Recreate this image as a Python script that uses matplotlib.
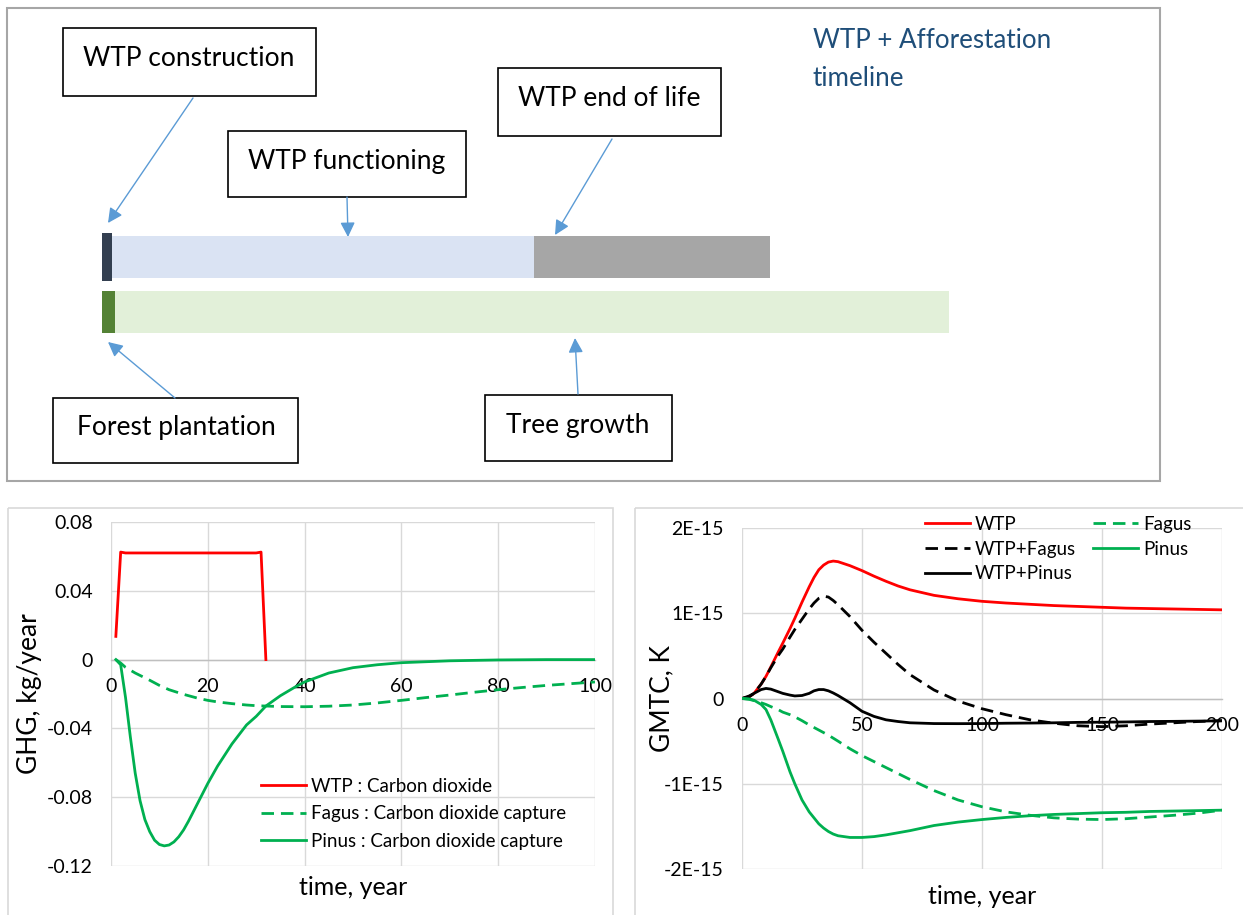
"""WTP + afforestation timeline with GHG flows and GMTC response."""

import numpy as np
import matplotlib
matplotlib.use("Agg")
import matplotlib.pyplot as plt
from matplotlib.patches import Rectangle
from matplotlib.ticker import FuncFormatter

plt.rcParams["font.family"] = ["Lato", "DejaVu Sans"]

W, H = 1243, 915

# timeline phases (arbitrary length units)
wtp_phases = ["WTP construction", "WTP functioning", "WTP end of life"]
wtp_lengths = [1.0, 42.2, 23.6]
wtp_colors = ["#333F50", "#DAE3F3", "#A6A6A6"]
forest_phases = ["Forest plantation", "Tree growth"]
forest_lengths = [1.3, 83.4]
forest_colors = ["#548235", "#E2F0D9"]

# GHG flows, kg/year
wtp_t = [1, 2, 3, 30, 31, 32]
wtp_ghg = [0.0135, 0.0625, 0.062, 0.062, 0.0625, 0.0]

fagus_t = [1, 2, 3, 5, 8, 10, 12, 15, 18, 20, 22, 25, 28, 30, 32, 35, 40, 45, 50,
           55, 60, 65, 70, 75, 80, 85, 90, 95, 100]
fagus_ghg = [0, -0.002, -0.0045, -0.0078, -0.012, -0.015, -0.0175, -0.0202, -0.0225,
             -0.0237, -0.0246, -0.0256, -0.0264, -0.0268, -0.027, -0.0273, -0.0274,
             -0.0271, -0.0264, -0.0252, -0.0237, -0.0221, -0.0206, -0.019, -0.0175,
             -0.0162, -0.015, -0.014, -0.013]

pinus_t = [1, 2, 3, 4, 5, 6, 7, 8, 9, 10, 11, 12, 13, 14, 15, 16, 18, 20, 22, 25, 28,
           30, 32, 35, 38, 40, 45, 50, 55, 60, 70, 80, 90, 100]
pinus_ghg = [0, -0.003, -0.022, -0.045, -0.066, -0.082, -0.093, -0.1, -0.105, -0.1075,
             -0.1083, -0.1078, -0.106, -0.103, -0.099, -0.094, -0.083, -0.072, -0.062,
             -0.049, -0.038, -0.033, -0.027, -0.021, -0.016, -0.013, -0.0078, -0.0047,
             -0.003, -0.0018, -0.0007, -0.0002, 0, 0]
ghg_xticks = [0, 20, 40, 60, 80, 100]
ghg_yticks = [-0.12, -0.08, -0.04, 0, 0.04, 0.08]

# GMTC, K (values in 1E-15 K)
gmtc_t = [0, 3, 5, 8, 10, 12, 15, 17, 20, 22, 25, 28, 30, 32, 34, 36, 38, 40, 45, 50,
          55, 60, 65, 70, 80, 90, 100, 110, 120, 130, 140, 150, 160, 170, 180, 190, 200]
gmtc_wtp = [0, 0.02, 0.06, 0.17, 0.26, 0.37, 0.54, 0.65, 0.82, 0.94, 1.13, 1.31, 1.42,
            1.51, 1.565, 1.6, 1.612, 1.605, 1.558, 1.5, 1.435, 1.375, 1.32, 1.275, 1.21,
            1.17, 1.14, 1.12, 1.105, 1.09, 1.08, 1.07, 1.06, 1.055, 1.05, 1.045, 1.04]
gmtc_wtp_fagus = [0, 0.02, 0.06, 0.17, 0.26, 0.36, 0.5, 0.58, 0.72, 0.81, 0.93, 1.05,
                  1.12, 1.175, 1.2, 1.19, 1.15, 1.1, 0.96, 0.8, 0.66, 0.53, 0.4, 0.28,
                  0.1, -0.03, -0.12, -0.19, -0.25, -0.29, -0.32, -0.33, -0.32, -0.3,
                  -0.285, -0.27, -0.26]
gmtc_wtp_pinus = [0, 0.03, 0.06, 0.105, 0.118, 0.11, 0.08, 0.06, 0.04, 0.03, 0.035, 0.06,
                  0.09, 0.105, 0.105, 0.09, 0.065, 0.035, -0.05, -0.15, -0.21, -0.25,
                  -0.27, -0.285, -0.294, -0.295, -0.294, -0.29, -0.288, -0.285, -0.28,
                  -0.278, -0.275, -0.27, -0.268, -0.265, -0.262]
gmtc_fagus = [0, -0.01, -0.025, -0.05, -0.07, -0.095, -0.13, -0.16, -0.19, -0.215, -0.26,
              -0.31, -0.34, -0.37, -0.4, -0.43, -0.465, -0.5, -0.59, -0.67, -0.74, -0.81,
              -0.88, -0.95, -1.08, -1.19, -1.27, -1.33, -1.37, -1.4, -1.415, -1.42,
              -1.41, -1.39, -1.37, -1.345, -1.31]
gmtc_pinus = [0, -0.005, -0.02, -0.07, -0.13, -0.25, -0.47, -0.62, -0.86, -1.0, -1.19,
              -1.33, -1.4, -1.47, -1.52, -1.56, -1.59, -1.61, -1.63, -1.63, -1.62, -1.6,
              -1.575, -1.55, -1.49, -1.45, -1.42, -1.395, -1.375, -1.36, -1.35, -1.34,
              -1.335, -1.325, -1.32, -1.315, -1.31]
gmtc_xticks = [0, 50, 100, 150, 200]
gmtc_yticks = [-2, -1, 0, 1, 2]

RED = "#FF0000"
GREEN = "#00B050"
ARROW = "#5B9BD5"
GRID = "#D9D9D9"
DASH = (0, (4.5, 2.5))


def px_rect(x0, y0, x1, y1):
    return [x0 / W, 1 - y1 / H, (x1 - x0) / W, (y1 - y0) / H]


def style_chart(ax, ylabel, label_x, xlabel_y):
    ax.set_facecolor("none")
    for side in ["top", "right", "left"]:
        ax.spines[side].set_visible(False)
    ax.spines["bottom"].set_position(("data", 0))
    ax.spines["bottom"].set_color("#BFBFBF")
    ax.spines["bottom"].set_linewidth(1.0)
    ax.grid(True, color=GRID, linewidth=1.0)
    ax.set_axisbelow(True)
    ax.tick_params(length=0, labelsize=14, colors="black")
    ax.tick_params(axis="x", pad=13)
    ax.tick_params(axis="y", pad=13)
    ax.set_ylabel(ylabel, fontsize=19)
    ax.yaxis.set_label_coords(label_x, 0.5)
    ax.set_xlabel("time, year", fontsize=18)
    ax.xaxis.set_label_coords(0.5, xlabel_y)


fig = plt.figure(figsize=(W / 100, H / 100), dpi=100)

# background layer in pixel coordinates
bg = fig.add_axes([0, 0, 1, 1], zorder=0)
bg.set_xlim(0, W)
bg.set_ylim(H, 0)
bg.axis("off")

bg.add_patch(Rectangle((7, 8), 1153, 473, fill=False, ec="#A6A6A6", lw=1.5))
bg.add_patch(Rectangle((8, 508), 605, 430, fill=False, ec=GRID, lw=1.2))
bg.add_patch(Rectangle((635, 508), 640, 430, fill=False, ec=GRID, lw=1.2))

boxes = {
    "WTP construction": (63, 28, 316, 96, 189, 58),
    "WTP functioning": (228, 131, 466, 197, 347, 161),
    "WTP end of life": (498, 68, 721, 136, 609, 98),
    "Forest plantation": (53, 398, 298, 463, 176, 428),
    "Tree growth": (485, 395, 672, 461, 578, 425),
}
for label, (x0, y0, x1, y1, tx, ty) in boxes.items():
    bg.add_patch(Rectangle((x0, y0), x1 - x0, y1 - y0, fill=False, ec="black", lw=1.2))
    bg.text(tx, ty, label, ha="center", va="center", fontsize=19, color="black")

arrows = [
    ((193, 98), (108, 223)),
    ((347, 197), (348, 237)),
    ((612, 139), (555, 235)),
    ((175, 398), (108, 342)),
    ((578, 394), (575, 338)),
]
for (xa, ya), (xb, yb) in arrows:
    bg.annotate("", xy=(xb, yb), xytext=(xa, ya),
                arrowprops=dict(arrowstyle="-|>", color=ARROW, lw=1.0,
                                mutation_scale=22, shrinkA=0, shrinkB=0))

bg.text(813, 40, "WTP + Afforestation", ha="left", va="center", fontsize=18.7,
        color="#1F4E79")
bg.text(813, 78, "timeline", ha="left", va="center", fontsize=18.7, color="#1F4E79")

# timeline bars
tl = fig.add_axes(px_rect(102, 220, 1102, 340), zorder=1)
tl.set_facecolor("none")
tl.axis("off")
tl.set_xlim(0, 100)
tl.set_ylim(1.509, -0.673)
wtp_left = np.concatenate([[0], np.cumsum(wtp_lengths)[:-1]])
for i, (name, ln, lf, c) in enumerate(zip(wtp_phases, wtp_lengths, wtp_left, wtp_colors)):
    tl.barh(0, ln, left=lf, height=0.873 if i == 0 else 0.764, color=c, lw=0)
forest_left = np.concatenate([[0], np.cumsum(forest_lengths)[:-1]])
for name, ln, lf, c in zip(forest_phases, forest_lengths, forest_left, forest_colors):
    tl.barh(1, ln, left=lf, height=0.764, color=c, lw=0)

# GHG chart
ax1 = fig.add_axes(px_rect(111, 522, 595, 866), zorder=2)
ax1.plot(wtp_t, wtp_ghg, color=RED, lw=2, label="WTP : Carbon dioxide", zorder=3)
ax1.plot(fagus_t, fagus_ghg, color=GREEN, lw=2, ls=DASH,
         label="Fagus : Carbon dioxide capture", zorder=3)
ax1.plot(pinus_t, pinus_ghg, color=GREEN, lw=2, label="Pinus : Carbon dioxide capture",
         zorder=3)
ax1.set_xlim(0, 100)
ax1.set_ylim(-0.12, 0.08)
ax1.set_xticks(ghg_xticks)
ax1.set_yticks(ghg_yticks)
ax1.yaxis.set_major_formatter(FuncFormatter(lambda v, p: "0" if abs(v) < 1e-9 else f"{v:.2f}"))
style_chart(ax1, "GHG, kg/year", -0.143, -0.03)
ax1.legend(loc="upper left", bbox_to_anchor=(261 / W, 1 - 778 / H),
           bbox_transform=fig.transFigure, frameon=False, fontsize=13.5,
           handlelength=2.4, handletextpad=0.25, labelspacing=0.55,
           borderpad=0, borderaxespad=0)

# GMTC chart
ax2 = fig.add_axes(px_rect(742, 528, 1222, 869), zorder=2)
scale = 1e-15
l_wtp, = ax2.plot(gmtc_t, np.array(gmtc_wtp) * scale, color=RED, lw=2, label="WTP", zorder=3)
l_wf, = ax2.plot(gmtc_t, np.array(gmtc_wtp_fagus) * scale, color="black", lw=2,
                 ls=DASH, label="WTP+Fagus", zorder=3)
l_wp, = ax2.plot(gmtc_t, np.array(gmtc_wtp_pinus) * scale, color="black", lw=2,
                 label="WTP+Pinus", zorder=3)
l_f, = ax2.plot(gmtc_t, np.array(gmtc_fagus) * scale, color=GREEN, lw=2,
                ls=DASH, label="Fagus", zorder=3)
l_p, = ax2.plot(gmtc_t, np.array(gmtc_pinus) * scale, color=GREEN, lw=2, label="Pinus",
                zorder=3)
ax2.set_xlim(0, 200)
ax2.set_ylim(-2e-15, 2e-15)
ax2.set_xticks(gmtc_xticks)
ax2.set_yticks(np.array(gmtc_yticks) * scale)
ax2.yaxis.set_major_formatter(
    FuncFormatter(lambda v, p: "0" if abs(v) < 1e-20 else f"{round(v / 1e-15):d}E-15"))
ax2.yaxis.get_offset_text().set_visible(False)
style_chart(ax2, "GMTC, K", -0.142, -0.047)
ax2.legend(handles=[l_wtp, l_wf, l_wp, l_f, l_p], ncol=2, loc="upper left",
           bbox_to_anchor=(925 / W, 1 - 516 / H), bbox_transform=fig.transFigure,
           frameon=False, fontsize=13.5, handlelength=2.4, handletextpad=0.25,
           labelspacing=0.41, columnspacing=0.93, borderpad=0, borderaxespad=0)

fig.savefig("out.png", dpi=100)
